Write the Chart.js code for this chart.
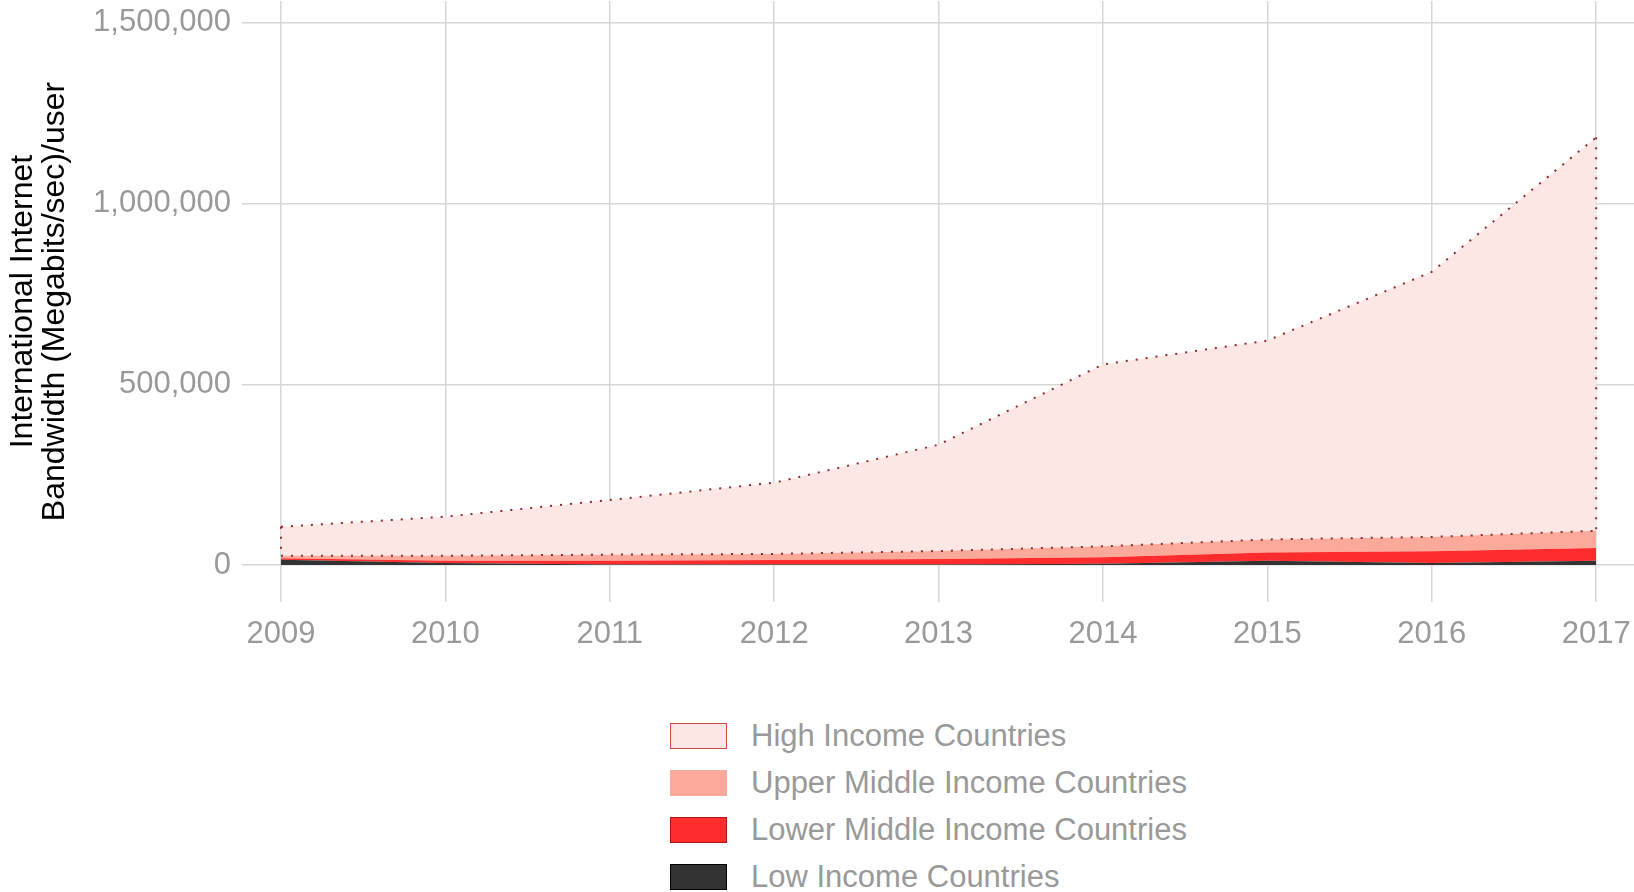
<!DOCTYPE html>
<html>
<head>
<meta charset="utf-8">
<script src="https://cdn.jsdelivr.net/npm/chart.js@4.4.1/dist/chart.umd.min.js"></script>
<style>
body{margin:0;background:#fff;font-family:"Liberation Sans",Arial,sans-serif;}
#wrap{position:absolute;left:0;top:0;width:1634px;height:680px;}
#leyenda{position:absolute;left:670px;top:712px;}
.fila{height:47px;display:flex;align-items:center;}
.caja{width:57px;height:26px;box-sizing:border-box;margin-right:24px;}
.txt{font-size:31px;color:#999;white-space:nowrap;}
</style>
</head>
<body>
<div id="wrap"><canvas id="grafica"></canvas></div>
<div id="leyenda"></div>
<script>
// datos
var anios=[2009,2010,2011,2012,2013,2014,2015,2016,2017];
var bajos=[15000,6000,2000,2000,2000,4000,12000,6000,12000];
var medioBajos=[4000,6000,10000,12000,15000,18000,23000,32000,35000];
var medioAltos=[7000,14000,17000,17000,22000,30000,36000,40000,48000];
var altos=[80000,108000,151000,197000,294000,503000,550000,733000,1088000];
var ticksY=[0,500000,1000000,1500000];

function puntos(arr){
	var res=[];
	for(var i=0;i<anios.length;i++){
		res.push({x:anios[i],y:arr[i]});
	}
	return res;
}

var datasets=[
	{label:"Low Income Countries",data:puntos(bajos),backgroundColor:"#333333",borderWidth:0,fill:"origin",caja:"#333333",borde:"#000"},
	{label:"Lower Middle Income Countries",data:puntos(medioBajos),backgroundColor:"#fe2c2c",borderWidth:0,fill:"-1",caja:"#fe2c2c",borde:"#b31515"},
	{label:"Upper Middle Income Countries",data:puntos(medioAltos),backgroundColor:"#fba99b",borderColor:"#8a2a2a",borderWidth:2,borderDash:[2,8],fill:"-1",caja:"#fba99b",borde:"#fba99b"},
	{label:"High Income Countries",data:puntos(altos),backgroundColor:"#fde7e5",borderColor:"#8a2a2a",borderWidth:2,borderDash:[2,8],fill:"-1",caja:"#fde7e5",borde:"#cf4a3c"}
];

// bordes verticales punteados del area de altos ingresos
var bordes={
	id:"bordes",
	afterDatasetsDraw:function(chart){
		var arriba=chart.getDatasetMeta(3).data;
		var abajo=chart.getDatasetMeta(2).data;
		var ctx=chart.ctx;
		ctx.save();
		ctx.strokeStyle="#8a2a2a";
		ctx.lineWidth=2;
		ctx.setLineDash([2,8]);
		[0,arriba.length-1].forEach(function(i){
			ctx.beginPath();
			ctx.moveTo(arriba[i].x,arriba[i].y);
			ctx.lineTo(abajo[i].x,abajo[i].y);
			ctx.stroke();
		});
		ctx.restore();
	}
};

var grid="#d6d6d6";
var grafica=new Chart(document.getElementById("grafica"),{
	type:"line",
	data:{datasets:datasets},
	plugins:[bordes],
	options:{
		responsive:true,
		maintainAspectRatio:false,
		animation:false,
		layout:{padding:{top:1,left:0,right:0,bottom:0},autoPadding:false},
		elements:{point:{radius:0},line:{tension:0}},
		plugins:{legend:{display:false},tooltip:{enabled:false}},
		scales:{
			x:{
				type:"linear",
				min:2008.763,max:2017.23,
				grid:{color:grid,lineWidth:1.5,drawTicks:false},
				border:{display:false},
				ticks:{stepSize:1,includeBounds:false,padding:14,color:"#999",
					font:{family:"'Liberation Sans', Arial",size:31},
					callback:function(v){return String(v);}},
				afterFit:function(s){s.height=78;s.paddingLeft=0;s.paddingRight=0;}
			},
			y:{
				stacked:true,
				min:-102000,max:1560000,
				grid:{color:grid,lineWidth:1.5,drawTicks:false},
				border:{display:false},
				afterBuildTicks:function(s){s.ticks=ticksY.map(function(v){return {value:v};});},
				ticks:{padding:11,color:"#999",
					font:{family:"'Liberation Sans', Arial",size:31},
					callback:function(v){return v.toLocaleString("en-US");}},
				title:{display:true,text:["International Internet","Bandwidth (Megabits/sec)/user"],
					color:"#000",font:{family:"'Liberation Sans', Arial",size:32,lineHeight:1},padding:{top:7,bottom:0}},
				afterFit:function(s){s.width=242;s.paddingTop=0;s.paddingBottom=0;}
			}
		}
	}
});

// leyenda en html, de arriba hacia abajo
var html="";
for(var i=datasets.length-1;i>=0;i--){
	var d=datasets[i];
	html+="<div class='fila'><div class='caja' style='background:"+d.caja+";border:1.5px solid "+d.borde+"'></div><span class='txt'>"+d.label+"</span></div>";
}
document.getElementById("leyenda").innerHTML=html;
</script>
</body>
</html>
